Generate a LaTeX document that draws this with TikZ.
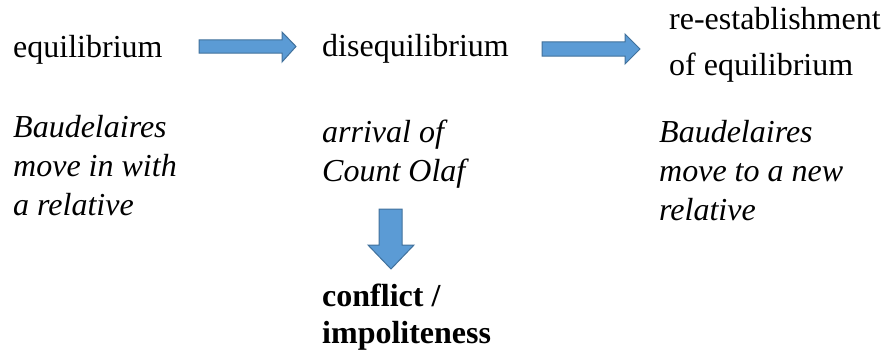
\documentclass[tikz,border=0pt]{standalone}
\usepackage{fontspec}
\setmainfont{Liberation Serif}
\definecolor{arrowfill}{HTML}{5B9BD5}
\definecolor{arrowdraw}{HTML}{41719C}
\tikzset{
  blockarrow/.style={fill=arrowfill, draw=arrowdraw, line width=1pt, line join=miter},
  lbl/.style={anchor=base west, inner sep=0pt, align=left, font=\fontsize{32}{39}\selectfont},
  ilbl/.style={lbl, font=\fontsize{32}{39}\selectfont\itshape},
  blbl/.style={lbl, font=\fontsize{32}{37}\selectfont\bfseries},
}
\begin{document}
\begin{tikzpicture}[x=1pt,y=1pt]
\useasboundingbox (0,0) rectangle (886,349);
% headings (base anchor = baseline of the last line)
\node[lbl] (eq) at (13,291) {equilibrium};
\node[lbl] (diseq) at (322,292) {disequilibrium};
\node[lbl, font=\fontsize{32}{46.5}\selectfont] (reeq) at (669,273) {re-establishment\\of equilibrium};
% descriptions
\node[ilbl] (d1) at (13,134) {Baudelaires\\move in with\\a relative};
\node[ilbl] (d2) at (322,168) {arrival of\\Count Olaf};
\node[ilbl] (d3) at (659,129) {Baudelaires\\move to a new\\relative};
\node[blbl] (res) at (322,6) {conflict /\\impoliteness};
% block arrows
\draw[blockarrow] (199,309) -- (282,309) -- (282,317) -- (296,302.5) -- (282,287) -- (282,296) -- (199,296) -- cycle;
\draw[blockarrow] (542,307) -- (625,307) -- (625,315) -- (640,300) -- (625,285) -- (625,293) -- (542,293) -- cycle;
\draw[blockarrow] (379,140) -- (402,140) -- (402,104) -- (414,104) -- (391,80) -- (368,104) -- (379,104) -- cycle;
\end{tikzpicture}
\end{document}
